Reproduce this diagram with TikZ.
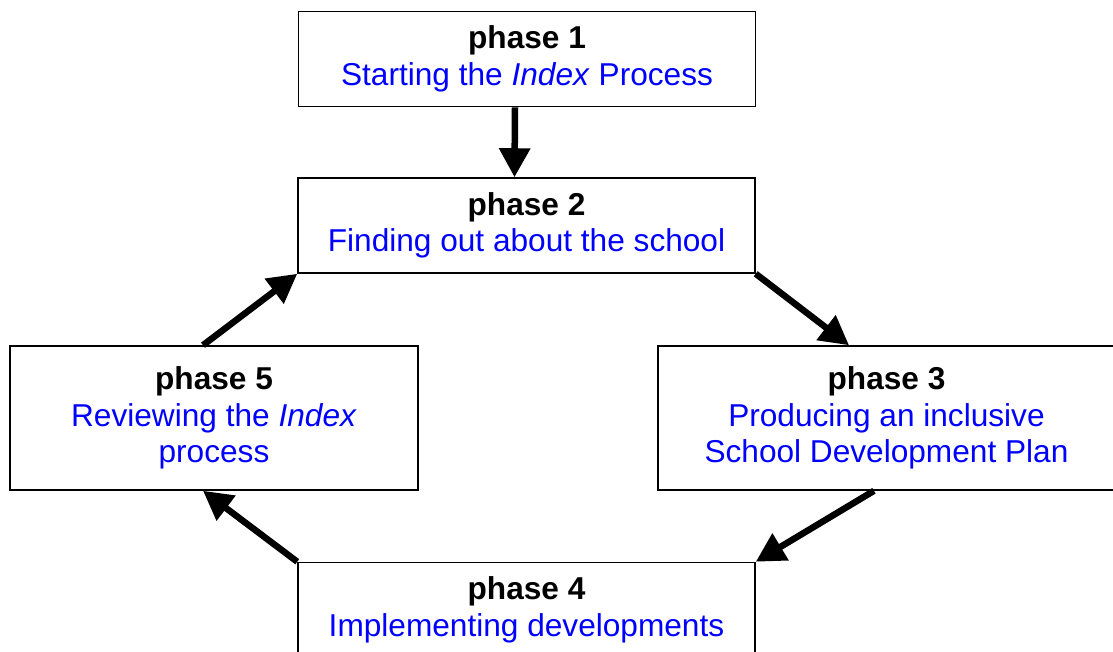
\documentclass[tikz,border=0pt]{standalone}
\usepackage{fontspec}
\setmainfont{Liberation Sans}
\usetikzlibrary{arrows.meta}

\begin{document}
\begin{tikzpicture}[x=0.02cm, y=-0.02cm,
  phasebox/.style={draw, line width=0.9pt, inner sep=0pt, align=center,
    minimum width=9.14cm, minimum height=1.9cm,
    font=\fontsize{18}{20.7}\selectfont},
  flow/.style={-{Triangle[length=0.58cm,width=0.6cm]}, line width=0.13cm}]
\useasboundingbox (0,0) rectangle (1113,652);
% Index cycle
\node[phasebox] (phase1) at (527,59) {\textbf{phase 1}\\ \textcolor{blue}{Starting the \textit{Index} Process}};
\node[phasebox] (phase2) at (526.5,225.5) {\textbf{phase 2}\\ \textcolor{blue}{Finding out about the school}};
\node[phasebox,minimum height=2.88cm] (phase3) at (886.5,418) {\textbf{phase 3}\\ \textcolor{blue}{Producing an inclusive}\\ \textcolor{blue}{School Development Plan}};
\node[phasebox] (phase4) at (526.5,610) {\textbf{phase 4}\\ \textcolor{blue}{Implementing developments}};
\node[phasebox,minimum width=8.16cm,minimum height=2.88cm] (phase5) at (214,418) {\textbf{phase 5}\\ \textcolor{blue}{Reviewing the \textit{Index}}\\ \textcolor{blue}{process}};

\draw[flow] ([xshift=-0.24cm]phase1.south) -- ([xshift=-0.24cm]phase2.north);
\draw[flow] (phase2.south east) -- ([xshift=-0.75cm]phase3.north);
\draw[flow] ([xshift=-0.25cm]phase3.south) -- (phase4.north east);
\draw[flow] (phase4.north west) -- ([xshift=-0.22cm]phase5.south);
\draw[flow] ([xshift=-0.22cm]phase5.north) -- (phase2.south west);
\end{tikzpicture}
\end{document}
